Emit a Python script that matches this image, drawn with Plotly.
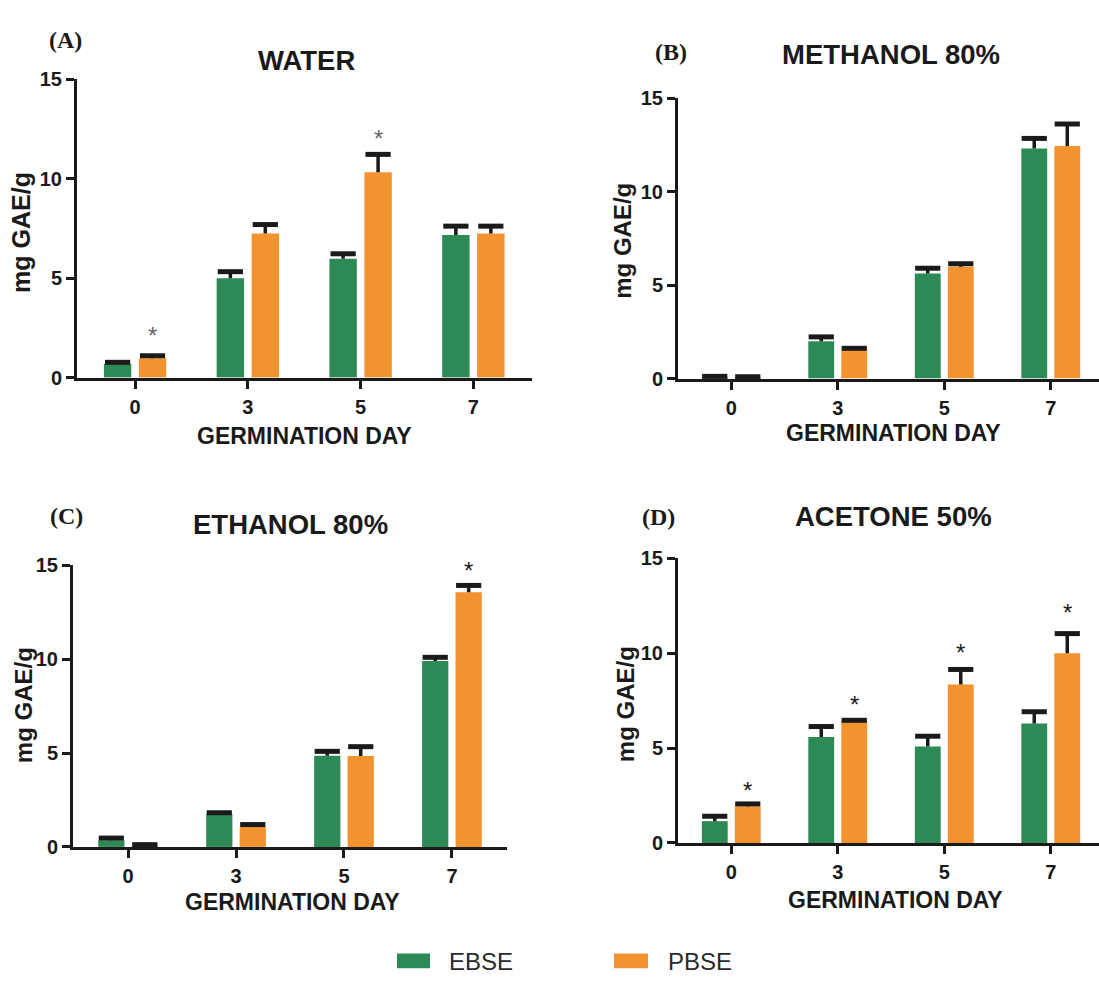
import plotly.graph_objects as go

W, H = 1099, 985

days = ["0", "3", "5", "7"]
groups = ["EBSE", "PBSE"]
titles = ["WATER", "METHANOL 80%", "ETHANOL 80%", "ACETONE 50%"]
letters = ["(A)", "(B)", "(C)", "(D)"]
yticks = [0, 5, 10, 15]

ebse_water = [0.69, 5.00, 5.98, 7.18]
ebse_water_err = [0.08, 0.33, 0.25, 0.44]
pbse_water = [0.97, 7.25, 10.33, 7.25]
pbse_water_err = [0.13, 0.45, 0.90, 0.37]
star_water = [2.38, None, 12.3, None]

ebse_meth = [0.08, 2.00, 5.62, 12.30]
ebse_meth_err = [0.04, 0.23, 0.28, 0.54]
pbse_meth = [0.06, 1.57, 5.98, 12.44]
pbse_meth_err = [0.04, 0.05, 0.16, 1.17]
star_meth = [None, None, None, None]

ebse_eth = [0.35, 1.75, 4.86, 9.90]
ebse_eth_err = [0.12, 0.07, 0.23, 0.20]
pbse_eth = [0.07, 1.07, 4.84, 13.56]
pbse_eth_err = [0.05, 0.12, 0.50, 0.37]
star_eth = [None, None, None, 15.0]

ebse_ace = [1.15, 5.59, 5.09, 6.30]
ebse_ace_err = [0.26, 0.55, 0.54, 0.62]
pbse_ace = [1.93, 6.43, 8.36, 10.01]
pbse_ace_err = [0.13, 0.04, 0.79, 1.03]
star_ace = [3.04, 7.57, 10.3, 12.42]

panels = [
    (ebse_water, ebse_water_err, pbse_water, pbse_water_err, star_water),
    (ebse_meth, ebse_meth_err, pbse_meth, pbse_meth_err, star_meth),
    (ebse_eth, ebse_eth_err, pbse_eth, pbse_eth_err, star_eth),
    (ebse_ace, ebse_ace_err, pbse_ace, pbse_ace_err, star_ace),
]

GREEN = "#2d8a56"
ORANGE = "#f29330"
INK = "#1a1a1a"

# pixel layout per panel: x-left, x-right, y-top(15), y-bottom(0), x-range
geo = [
    (77, 532, 70, 375, [-0.515, 3.52]),
    (678, 1099, 89, 376, [-0.5, 3.453]),
    (73, 507, 567, 855, [-0.51, 3.51]),
    (678, 1099, 560, 851, [-0.5, 3.453]),
]
star_colors = ["#666666", INK, INK, INK]


def px(x):
    return x / W


def py(y):
    return 1 - y / H


BARGAP = 0.38
GROUPGAP = 0.216
slot = (1 - BARGAP) / 2
off = slot / 2

fig = go.Figure()
xs = list(range(len(days)))
annotations = []
FONT = "Liberation Sans, Arial"

for i, (ev, ee, pv, pe, st) in enumerate(panels):
    n = "" if i == 0 else str(i + 1)
    xa, ya = "x" + n, "y" + n
    for vals, errs, col, name in [(ev, ee, GREEN, groups[0]), (pv, pe, ORANGE, groups[1])]:
        fig.add_trace(go.Bar(
            x=xs, y=vals, name=name, marker=dict(color=col, line=dict(width=0)),
            error_y=dict(type="data", symmetric=False, array=errs, arrayminus=[0] * 4,
                         color=INK, thickness=3.5, width=0),
            xaxis=xa, yaxis=ya, showlegend=False))
    for vals, errs, sgn in [(ev, ee, -1), (pv, pe, 1)]:
        fig.add_trace(go.Scatter(
            x=[j + sgn * off for j in xs], y=[v + e for v, e in zip(vals, errs)],
            mode="markers", marker=dict(symbol="line-ew", size=18, color=INK,
                                        line=dict(color=INK, width=5)),
            xaxis=xa, yaxis=ya, showlegend=False, hoverinfo="skip", cliponaxis=False))

    x0, x1, yt, yb, xr = geo[i]
    tf = dict(family=FONT, size=20, color=INK, weight="bold")
    fig.update_layout(**{
        ("xaxis" + n): dict(domain=[px(x0), px(x1)], range=xr, anchor=ya,
                            showline=True, linewidth=3, linecolor=INK,
                            ticks="outside", ticklen=8, tickwidth=2.5, tickcolor=INK,
                            tickvals=xs, ticktext=days, showgrid=False, zeroline=False,
                            tickfont=tf, ticklabelstandoff=1, fixedrange=True),
        ("yaxis" + n): dict(domain=[py(yb), py(yt)], range=[0, 15], anchor=xa,
                            showline=True, linewidth=3, linecolor=INK,
                            ticks="outside", ticklen=8, tickwidth=2.5, tickcolor=INK,
                            tickvals=yticks, showgrid=False, zeroline=False,
                            tickfont=tf, ticklabelstandoff=0, fixedrange=True),
    })

    for j, s in enumerate(st):
        if s is not None:
            annotations.append(dict(
                x=xs[j] + off, y=s, xref=xa, yref=ya, text="*", showarrow=False,
                font=dict(family=FONT, size=24, color=star_colors[i]),
                yanchor="middle", yshift=-5))

# titles, labels
title_pos = [(306, 51), (891, 45), (291, 525), (893, 517)]
letter_pos = [(65, 30), (671, 42), (66, 517), (658, 518)]
xlabel_pos = [(304, 435), (893, 432), (292, 911), (895, 909)]
ylabel_pos = [(21, 227), (623, 235), (23, 710), (625, 709)]
for i in range(4):
    annotations.append(dict(x=px(title_pos[i][0]), y=py(title_pos[i][1]), xref="paper", yref="paper",
                            text=titles[i], showarrow=False, xanchor="center", yanchor="middle",
                            font=dict(family=FONT, size=27.5, color=INK, weight="bold")))
    annotations.append(dict(x=px(letter_pos[i][0]), y=py(letter_pos[i][1]), xref="paper", yref="paper",
                            text=letters[i], showarrow=False, xanchor="center", yanchor="middle",
                            font=dict(family="Liberation Serif, Times New Roman", size=24, color=INK,
                                      weight="bold")))
    annotations.append(dict(x=px(xlabel_pos[i][0]), y=py(xlabel_pos[i][1]), xref="paper", yref="paper",
                            text="GERMINATION DAY", showarrow=False, xanchor="center", yanchor="middle",
                            font=dict(family=FONT, size=23, color=INK, weight="bold")))
    annotations.append(dict(x=px(ylabel_pos[i][0]), y=py(ylabel_pos[i][1]), xref="paper", yref="paper",
                            text="mg GAE/g", showarrow=False, xanchor="center", yanchor="middle",
                            textangle=-90,
                            font=dict(family=FONT, size=25 if i == 0 else 24, color=INK, weight="bold")))

# legend
legend_items = [(GREEN, 397, 430, groups[0], 447), (ORANGE, 614, 648, groups[1], 666)]
shapes = []
for col, a, b, lab, tx in legend_items:
    shapes.append(dict(type="rect", xref="paper", yref="paper", x0=px(a), x1=px(b),
                       y0=py(979), y1=py(964), fillcolor=col, line=dict(width=0)))
    annotations.append(dict(x=px(tx), y=py(972), xref="paper", yref="paper", text=lab,
                            showarrow=False, xanchor="left", yanchor="middle",
                            font=dict(family=FONT, size=24, color="#2a2a2a")))

fig.update_layout(
    width=W, height=H, margin=dict(l=0, r=0, t=0, b=0),
    paper_bgcolor="white", plot_bgcolor="white",
    barmode="group", bargap=BARGAP, bargroupgap=GROUPGAP,
    annotations=annotations, shapes=shapes, showlegend=False,
)

fig.write_html("out.html", config={"displayModeBar": False},
               post_script="document.body.style.margin='0px';")
